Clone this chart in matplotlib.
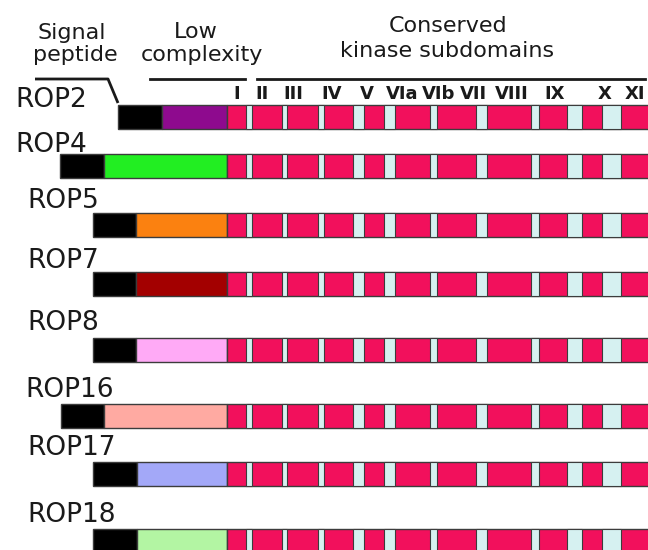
import matplotlib
matplotlib.use("Agg")
import matplotlib.pyplot as plt

# ---- data (positions in figure-pixel units of the original diagram) ----
names = ['ROP2', 'ROP4', 'ROP5', 'ROP7', 'ROP8', 'ROP16', 'ROP17', 'ROP18']
bar_top = [105, 154, 213, 272, 338, 404, 462, 529]
label_x = [15, 15, 27, 27, 27, 25, 27, 27]
label_base = [107, 152, 208, 268, 330, 397, 455, 522]
protein_start = [118, 60, 93, 93, 93, 61, 93, 93]
signal_end = [162, 104, 136, 136, 136, 104, 137, 137]
lowc_colors = ['#8e0a8e', '#22ee22', '#fb8110', '#a30000',
               '#ffaaf6', '#ffaaa2', '#a3a8f8', '#b3f5a3']
kinase_start = 227
kinase_end = 670
gap_starts = [246, 282, 318, 353, 384, 430, 476, 531, 567, 602]
gap_ends = [252, 287, 324, 364, 395, 437, 487, 539, 582, 621]
subdomains = ['I', 'II', 'III', 'IV', 'V', 'VIa', 'VIb', 'VII', 'VIII', 'IX', 'X', 'XI']
subdomain_x = [237, 262, 293, 332, 367, 402, 439, 473, 512, 555, 605, 635]

BAR_H = 24
PINK = '#f2105c'
GAP = '#d6f1f1'
EDGE = '#3c3c3c'

fig = plt.figure(figsize=(6.48, 5.5), dpi=100)
ax = fig.add_axes([0, 0, 1, 1])
ax.set_xlim(0, 648)
ax.set_ylim(550, 0)
ax.axis('off')

for i, name in enumerate(names):
    yc = bar_top[i] + BAR_H / 2
    # signal peptide
    ax.barh(yc, signal_end[i] - protein_start[i], left=protein_start[i], height=BAR_H,
            color='black', edgecolor=EDGE, linewidth=1)
    # low complexity
    ax.barh(yc, kinase_start - signal_end[i], left=signal_end[i], height=BAR_H,
            color=lowc_colors[i], edgecolor=EDGE, linewidth=1)
    # kinase domain
    ax.barh(yc, kinase_end - kinase_start, left=kinase_start, height=BAR_H,
            color=PINK, edgecolor=EDGE, linewidth=1)
    for gs, ge in zip(gap_starts, gap_ends):
        ax.barh(yc, ge - gs, left=gs, height=BAR_H, color=GAP,
                edgecolor=EDGE, linewidth=0.8)
    ax.text(label_x[i], label_base[i], name, fontsize=19, va='baseline', ha='left',
            color='#1a1a1a')

# header annotations
hdr = dict(fontsize=16, va='baseline', ha='center', color='#1a1a1a')
ax.text(72, 39, 'Signal', **hdr)
ax.text(75, 61, 'peptide', **hdr)
ax.text(196, 38, 'Low', **hdr)
ax.text(202, 61, 'complexity', **hdr)
ax.text(448, 32, 'Conserved', **hdr)
ax.text(447, 57, 'kinase subdomains', **hdr)

ax.plot([35, 108, 118], [79, 79, 103], color='#1a1a1a', lw=2, solid_capstyle='butt')
ax.plot([150, 245], [79, 79], color='#1a1a1a', lw=2)
ax.plot([257, 645], [79, 79], color='#1a1a1a', lw=2)

for lab, x in zip(subdomains, subdomain_x):
    ax.text(x, 99, lab, fontsize=13, fontweight='bold', ha='center', va='baseline',
            color='#1a1a1a')

fig.savefig('out.png', dpi=100, facecolor='white')
